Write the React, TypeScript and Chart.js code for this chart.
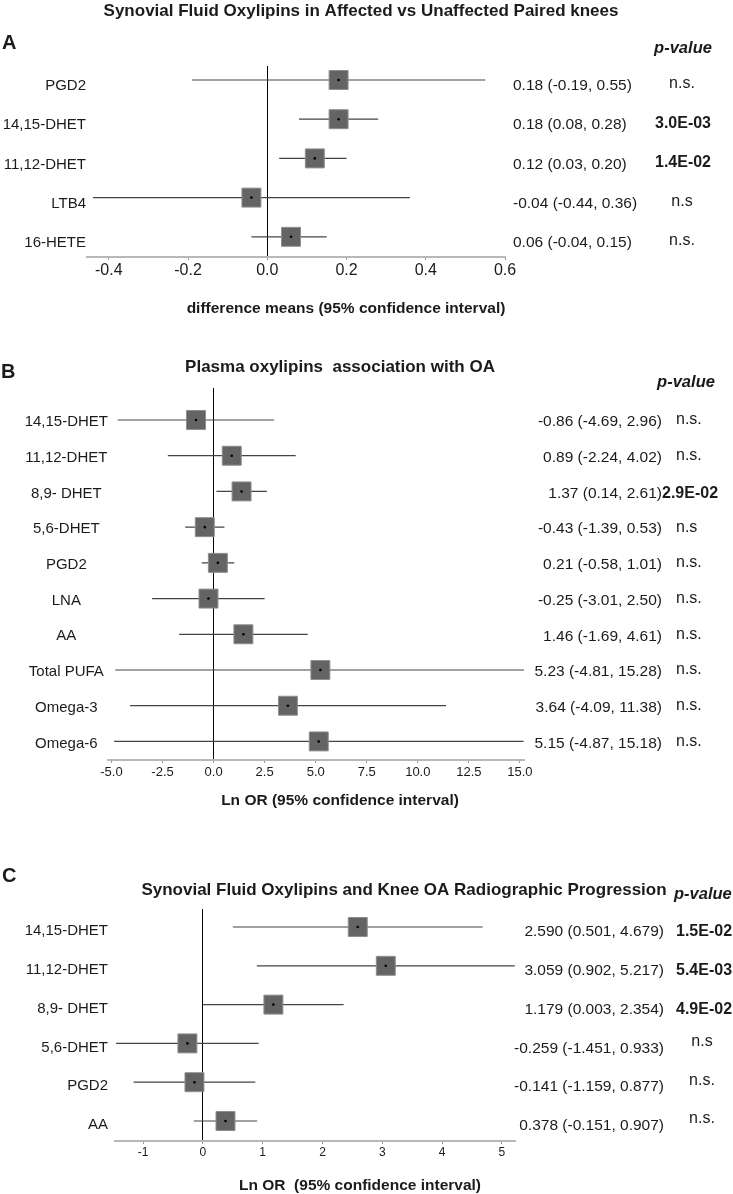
import React, { useEffect, useRef } from "react";
import { Chart, registerables } from "chart.js";

Chart.register(...registerables);

const FONT = "'Liberation Sans', Arial, Helvetica, sans-serif";
const INK = "#1b1b1b";

// ---------- Panel A : Synovial fluid, affected vs unaffected ----------
const aLabels = ["PGD2", "14,15-DHET", "11,12-DHET", "LTB4", "16-HETE"];
const aMean = [0.18, 0.18, 0.12, -0.04, 0.06];
const aLow = [-0.19, 0.08, 0.03, -0.44, -0.04];
const aHigh = [0.55, 0.28, 0.2, 0.36, 0.15];
const aP = ["n.s.", "3.0E-03", "1.4E-02", "n.s", "n.s."];
const aTicks = [-0.4, -0.2, 0, 0.2, 0.4, 0.6];

// ---------- Panel B : Plasma oxylipins association with OA ----------
const bLabels = [
  "14,15-DHET",
  "11,12-DHET",
  "8,9- DHET",
  "5,6-DHET",
  "PGD2",
  "LNA",
  "AA",
  "Total PUFA",
  "Omega-3",
  "Omega-6",
];
const bMean = [-0.86, 0.89, 1.37, -0.43, 0.21, -0.25, 1.46, 5.23, 3.64, 5.15];
const bLow = [-4.69, -2.24, 0.14, -1.39, -0.58, -3.01, -1.69, -4.81, -4.09, -4.87];
const bHigh = [2.96, 4.02, 2.61, 0.53, 1.01, 2.5, 4.61, 15.28, 11.38, 15.18];
const bP = ["n.s.", "n.s.", "2.9E-02", "n.s", "n.s.", "n.s.", "n.s.", "n.s.", "n.s.", "n.s."];
const bTicks = [-5, -2.5, 0, 2.5, 5, 7.5, 10, 12.5, 15];

// ---------- Panel C : Synovial fluid and radiographic progression ----------
const cLabels = ["14,15-DHET", "11,12-DHET", "8,9- DHET", "5,6-DHET", "PGD2", "AA"];
const cMean = [2.59, 3.059, 1.179, -0.259, -0.141, 0.378];
const cLow = [0.501, 0.902, 0.003, -1.451, -1.159, -0.151];
const cHigh = [4.679, 5.217, 2.354, 0.933, 0.877, 0.907];
const cP = ["1.5E-02", "5.4E-03", "4.9E-02", "n.s", "n.s.", "n.s."];
const cTicks = [-1, 0, 1, 2, 3, 4, 5];

type Spec = {
  letter: string;
  title: string;
  xTitle: string;
  labels: string[];
  mean: number[];
  low: number[];
  high: number[];
  pvals: string[];
  ticks: number[];
  tickDec: number;
  estDec: number;
  xMin: number;
  xMax: number;
  yMin: number;
  yMax: number;
  height: number;
  top: number;
  left: number;
  right: number;
  bottom: number;
  tickSize: number;
  tickPad: number;
  crossAlign: "near" | "center" | "far";
  yPad: number;
  labelDy: number;
  letterPos: [number, number];
  titlePos: [number, number];
  pHead: [number, number, CanvasTextAlign];
  xTitlePos: [number, number];
  est: [number, number, CanvasTextAlign];
  sigP: [number, number, CanvasTextAlign];
  nsP: [number, number, CanvasTextAlign];
};

const specs: Spec[] = [
  {
    letter: "A",
    title: "Synovial Fluid Oxylipins in Affected vs Unaffected Paired knees",
    xTitle: "difference means (95% confidence interval)",
    labels: aLabels,
    mean: aMean,
    low: aLow,
    high: aHigh,
    pvals: aP,
    ticks: aTicks,
    tickDec: 1,
    estDec: 2,
    xMin: -0.455,
    xMax: 0.6,
    yMin: -0.357,
    yMax: 4.515,
    height: 330,
    top: 66,
    left: 87,
    right: 505,
    bottom: 257,
    tickSize: 16,
    tickPad: 1,
    crossAlign: "near",
    yPad: 1,
    labelDy: 6,
    letterPos: [2, 43],
    titlePos: [361, 11],
    pHead: [683, 48, "center"],
    xTitlePos: [346, 309],
    est: [513, 6, "left"],
    sigP: [683, 4, "center"],
    nsP: [682, 4, "center"],
  },
  {
    letter: "B",
    title: "Plasma oxylipins  association with OA",
    xTitle: "Ln OR (95% confidence interval)",
    labels: bLabels,
    mean: bMean,
    low: bLow,
    high: bHigh,
    pvals: bP,
    ticks: bTicks,
    tickDec: 1,
    estDec: 2,
    xMin: -5.17,
    xMax: 15.2,
    yMin: -0.896,
    yMax: 9.52,
    height: 480,
    top: 58,
    left: 108,
    right: 524,
    bottom: 430,
    tickSize: 13,
    tickPad: 2,
    crossAlign: "center",
    yPad: 0,
    labelDy: 2,
    letterPos: [1, 42],
    titlePos: [340, 37],
    pHead: [686, 52, "center"],
    xTitlePos: [340, 471],
    est: [662, 2, "right"],
    sigP: [662, 2, "left"],
    nsP: [676, 0, "left"],
  },
  {
    letter: "C",
    title: "Synovial Fluid Oxylipins and Knee OA Radiographic Progression",
    xTitle: "Ln OR  (95% confidence interval)",
    labels: cLabels,
    mean: cMean,
    low: cLow,
    high: cHigh,
    pvals: cP,
    ticks: cTicks,
    tickDec: 0,
    estDec: 3,
    xMin: -1.47,
    xMax: 5.22,
    yMin: -0.464,
    yMax: 5.515,
    height: 384,
    top: 99,
    left: 115,
    right: 515,
    bottom: 331,
    tickSize: 12,
    tickPad: 1,
    crossAlign: "near",
    yPad: 7,
    labelDy: 4,
    letterPos: [2, 66],
    titlePos: [404, 80],
    pHead: [674, 84, "left"],
    xTitlePos: [360, 376],
    est: [664, 5, "right"],
    sigP: [676, 5, "left"],
    nsP: [702, -2, "center"],
  },
];

const font = (weight: string, size: number, italic = false) =>
  `${italic ? "italic " : ""}${weight} ${size}px ${FONT}`;

function buildChart(canvas: HTMLCanvasElement, s: Spec) {
  const pts = s.mean.map((m, i) => ({ x: m, y: i }));

  const dots = {
    data: pts,
    pointStyle: "circle",
    pointRadius: 1.3,
    pointBackgroundColor: "#000",
    pointBorderWidth: 0,
    showLine: false,
    order: 0,
  };
  const squares = {
    data: pts,
    pointStyle: "rect",
    pointRadius: 13.4,
    pointBackgroundColor: "#646464",
    pointBorderColor: "#8e8e8e",
    pointBorderWidth: 1,
    showLine: false,
    order: 1,
  };
  const ciLines = s.labels.map((_, i) => ({
    data: [
      { x: s.low[i], y: i },
      { x: s.high[i], y: i },
    ],
    showLine: true,
    borderColor: "#444444",
    borderWidth: 1.2,
    pointRadius: 0,
    order: 2,
  }));

  const textPlugin = {
    id: "forestText" + s.letter,
    afterDraw(chart: any) {
      const ctx: CanvasRenderingContext2D = chart.ctx;
      const ys = chart.scales.y;
      ctx.save();
      ctx.fillStyle = INK;
      ctx.textBaseline = "middle";

      ctx.font = font("bold", 20);
      ctx.textAlign = "left";
      ctx.fillText(s.letter, s.letterPos[0], s.letterPos[1]);

      ctx.font = font("bold", 17);
      ctx.textAlign = "center";
      ctx.fillText(s.title, s.titlePos[0], s.titlePos[1]);

      ctx.font = font("bold", 16.5, true);
      ctx.textAlign = s.pHead[2];
      ctx.fillText("p-value", s.pHead[0], s.pHead[1]);

      ctx.font = font("bold", 15.5);
      ctx.textAlign = "center";
      ctx.fillText(s.xTitle, s.xTitlePos[0], s.xTitlePos[1]);

      s.labels.forEach((_, i) => {
        const py = ys.getPixelForValue(i);
        const d = s.estDec;
        const txt = `${s.mean[i].toFixed(d)} (${s.low[i].toFixed(d)}, ${s.high[i].toFixed(d)})`;
        ctx.font = font("normal", 15.5);
        ctx.textAlign = s.est[2];
        ctx.fillText(txt, s.est[0], py + s.est[1]);

        const p = s.pvals[i];
        const sig = !p.startsWith("n.s");
        const pos = sig ? s.sigP : s.nsP;
        ctx.font = font(sig ? "bold" : "normal", 16);
        ctx.textAlign = pos[2];
        ctx.fillText(p, pos[0], py + pos[1]);
      });
      ctx.restore();
    },
  };

  return new Chart(canvas, {
    type: "scatter",
    data: { datasets: [dots, squares, ...ciLines] as any },
    options: {
      responsive: false,
      animation: false,
      devicePixelRatio: 1,
      events: [],
      layout: { padding: { top: s.top, right: 733 - s.right, left: 0, bottom: 0 } },
      plugins: {
        legend: { display: false },
        tooltip: { enabled: false },
        title: { display: false },
      },
      scales: {
        x: {
          type: "linear",
          min: s.xMin,
          max: s.xMax,
          afterBuildTicks: (ax: any) => {
            ax.ticks = s.ticks.map((v) => ({ value: v }));
          },
          afterFit: (ax: any) => {
            ax.height = s.height - s.bottom;
          },
          ticks: {
            autoSkip: false,
            maxRotation: 0,
            padding: s.tickPad,
            color: INK,
            font: { family: FONT, size: s.tickSize },
            callback: (v: any) => Number(v).toFixed(s.tickDec),
          },
          grid: {
            color: (ctx: any) =>
              ctx.tick && ctx.tick.value === 0 ? "#000000" : "rgba(0,0,0,0)",
            lineWidth: 1,
            drawTicks: true,
            tickLength: 3,
            tickColor: "#9a9a9a",
            tickWidth: 1,
          },
          border: { display: true, color: "#b8b8b8", width: 2 },
        },
        y: {
          type: "linear",
          reverse: true,
          min: s.yMin,
          max: s.yMax,
          afterBuildTicks: (ax: any) => {
            ax.ticks = s.labels.map((_, i) => ({ value: i }));
          },
          afterFit: (ax: any) => {
            ax.width = s.left;
          },
          ticks: {
            autoSkip: false,
            crossAlign: s.crossAlign,
            padding: s.yPad,
            labelOffset: s.labelDy,
            color: INK,
            font: { family: FONT, size: 15 },
            callback: (v: any) => s.labels[Math.round(Number(v))] ?? "",
          },
          grid: { display: false, drawTicks: false },
          border: { display: false },
        },
      },
    } as any,
    plugins: [textPlugin],
  });
}

function ForestPanel({ spec }: { spec: Spec }) {
  const ref = useRef<HTMLCanvasElement | null>(null);
  useEffect(() => {
    if (!ref.current) return;
    const chart = buildChart(ref.current, spec);
    return () => chart.destroy();
  }, [spec]);
  return (
    <canvas
      ref={ref}
      width={733}
      height={spec.height}
      style={{ display: "block", width: 733, height: spec.height }}
    />
  );
}

export default function App() {
  useEffect(() => {
    document.body.style.margin = "0";
    document.body.style.background = "#ffffff";
  }, []);
  return (
    <div style={{ width: 733, background: "#ffffff" }}>
      {specs.map((s) => (
        <ForestPanel key={s.letter} spec={s} />
      ))}
    </div>
  );
}
